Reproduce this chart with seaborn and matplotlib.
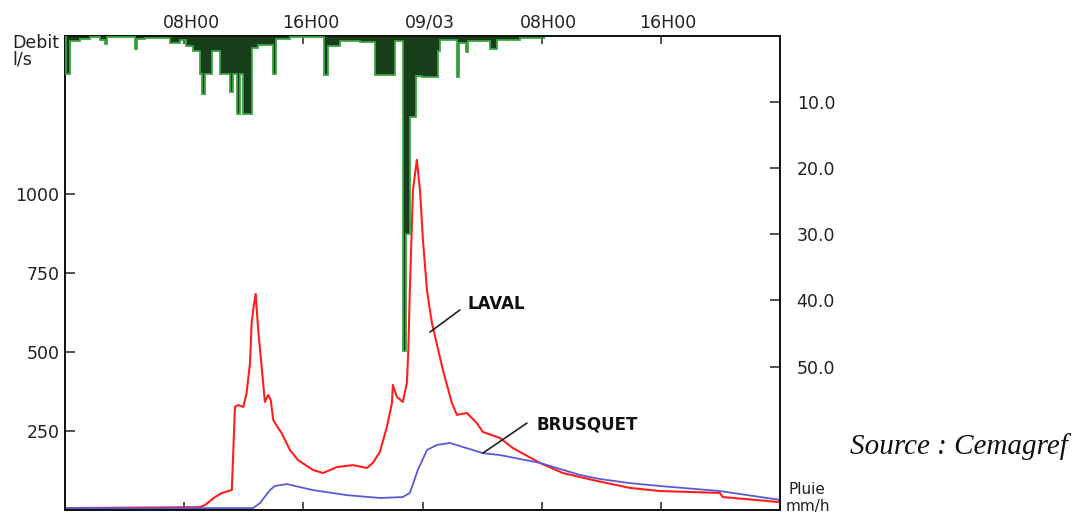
import numpy as np
import matplotlib
matplotlib.use("Agg")
import matplotlib.pyplot as plt
import matplotlib.transforms as mtransforms
import seaborn as sns

# ---------------- data ----------------
# time in hours from 08/03 00H00
laval_h = [0, 9.06, 9.4, 10.07, 10.54, 11.2, 11.41, 11.63, 11.97, 12.19, 12.42, 12.53,
           12.68, 12.80, 12.97, 13.20, 13.42, 13.64, 13.81, 13.98, 14.30, 14.54, 15.10,
           15.64, 16.64, 17.32, 18.26, 19.33, 20.27, 20.67, 21.14, 21.61, 21.95, 22.01,
           22.28, 22.68, 22.95, 23.05, 23.15, 23.36, 23.62, 23.83, 24.03, 24.30, 24.63,
           25.37, 25.97, 26.31, 26.98, 27.65, 28.05, 29.19, 30.07, 31.88, 33.42, 35.70,
           37.92, 39.93, 43.96, 44.16, 47.99]
laval_q = [6, 9, 16, 41, 54, 63, 326, 332, 326, 370, 465, 592,
           649, 684, 570, 453, 342, 364, 348, 285, 260, 244, 190,
           158, 127, 117, 136, 142, 133, 149, 184, 263, 339, 396,
           358, 342, 402, 506, 696, 1013, 1108, 1013, 854, 696, 592,
           443, 339, 301, 307, 275, 247, 228, 196, 149, 117, 92,
           70, 60, 54, 41, 25]

brusquet_h = [0, 12.62, 13.09, 13.76, 14.09, 14.90, 16.64, 18.93, 21.14, 22.68, 23.15,
              23.69, 24.30, 24.97, 25.84, 28.05, 29.19, 31.88, 34.56, 35.91, 37.92,
              39.93, 43.96, 47.99]
brusquet_q = [6, 6, 22, 63, 76, 82, 63, 47, 38, 41, 54,
              127, 190, 206, 212, 180, 174, 149, 111, 98, 85,
              76, 60, 32]

# rainfall (mm/h), step intervals: edges in hours
rain_edges_h = [0.0, 0.07, 0.34, 1.01, 1.68, 2.35, 2.68, 2.82, 4.70, 4.83, 5.37, 7.05,
                7.72, 8.12, 8.59, 9.06, 9.19, 9.40, 9.87, 10.40, 11.07, 11.28, 11.54,
                11.74, 11.95, 12.55, 12.95, 13.96, 14.16, 15.10, 17.38, 17.65, 18.46,
                19.80, 20.81, 22.15, 22.68, 22.89, 23.15, 23.56, 23.96, 25.03, 25.17,
                26.31, 26.44, 26.91, 27.05, 28.52, 28.99, 30.54, 32.21]
rain_mmh = [0.0, 5.8, 0.8, 0.5, 0.2, 0.6, 1.2, 0.1, 2.0, 0.5, 0.3,
            1.0, 0.6, 1.5, 2.2, 5.8, 8.8, 5.8, 2.3, 5.8, 8.5, 5.8,
            11.8, 5.8, 11.8, 1.8, 1.4, 5.8, 0.5, 0.1, 5.9, 1.5,
            0.8, 0.9, 5.9, 0.8, 47.7, 30.0, 12.3, 6.0, 6.2, 2.3,
            0.6, 6.2, 1.0, 2.4, 0.8, 2.0, 0.6, 0.3]

time_ticks = [8, 16, 24, 32, 40]
time_labels = ["08H00", "16H00", "09/03", "08H00", "16H00"]
debit_ticks = [250, 500, 750, 1000]
rain_ticks = [10, 20, 30, 40, 50]

# ---------------- figure ----------------
sns.set_style("white")
plt.rcParams['font.family'] = ['DejaVu Sans']

W, H = 1075, 516
fig = plt.figure(figsize=(W / 100, H / 100), dpi=100)
ax = fig.add_axes([65 / W, 6 / H, 715 / W, 474 / H])

sns.lineplot(x=laval_h, y=laval_q, ax=ax, color="#ff1e1e", lw=1.5,
             estimator=None, sort=False)
sns.lineplot(x=brusquet_h, y=brusquet_q, ax=ax, color="#5a5ad6", lw=1.3,
             estimator=None, sort=False)

ax.set_xlim(0, 48)
ax.set_ylim(0, 1500)
ax.set_xticks(time_ticks)
ax.set_xticklabels(time_labels)
ax.set_yticks(debit_ticks)
ax.set_yticklabels([str(v) for v in debit_ticks])
ax.set_xlabel("")
ax.set_ylabel("")
ax.tick_params(axis="x", direction="in", top=True, bottom=True, labeltop=True,
               labelbottom=False, length=6, width=1.1, labelsize=12.5, pad=3,
               colors="#222222")
ax.tick_params(axis="y", direction="in", left=True, length=7, width=1.1,
               labelsize=12.5, pad=4, colors="#222222")
offset = mtransforms.ScaledTranslation(7 / 100, 0, fig.dpi_scale_trans)
for lab in ax.get_xticklabels(which="both"):
    lab.set_transform(lab.get_transform() + offset)
for sp in ax.spines.values():
    sp.set_color("#111111")
    sp.set_linewidth(1.3)

# rainfall hanging from the top on an inverted right axis
ax2 = ax.twinx()
edges = np.array(rain_edges_h)
vals = np.array(rain_mmh)
ax2.bar(edges[:-1], vals, width=np.diff(edges), align="edge",
        color="#173d1b", linewidth=0, zorder=2)
ax2.stairs(vals, edges, baseline=None, color="#3aa640", lw=1.3, zorder=3)
ax2.set_ylim(71.7, 0)
ax2.set_yticks(rain_ticks)
ax2.set_yticklabels([f"{v:.1f}" for v in rain_ticks])
ax2.tick_params(axis="y", direction="in", right=True, length=7, width=1.1,
                labelsize=12.5, pad=12, colors="#222222")
for sp in ax2.spines.values():
    sp.set_color("#111111")
    sp.set_linewidth(1.3)

# annotations
ax.text(27.05, 652, "LAVAL", fontsize=12, fontweight="bold", ha="left",
        va="center", color="#111111")
ax.plot([26.51, 24.50], [633, 563], color="#222222", lw=1.2)
ax.text(31.68, 269, "BRUSQUET", fontsize=12, fontweight="bold", ha="left",
        va="center", color="#111111")
ax.plot([31.01, 28.05], [275, 180], color="#222222", lw=1.2)

fig.text(12 / W, 1 - 43 / H, "Debit", fontsize=12.5, va="center", ha="left",
         color="#222222")
fig.text(12 / W, 1 - 60 / H, "l/s", fontsize=12.5, va="center", ha="left",
         color="#222222")
fig.text(788 / W, 1 - 490 / H, "Pluie", fontsize=11, va="center", ha="left",
         color="#222222")
fig.text(786 / W, 1 - 507 / H, "mm/h", fontsize=11, va="center", ha="left",
         color="#222222")
fig.text(850 / W, 1 - 447 / H, "Source : Cemagref", fontsize=21,
         family=["Liberation Serif", "DejaVu Serif"], style="italic",
         va="center", ha="left", color="#111111")

fig.savefig("out.png", dpi=100)
